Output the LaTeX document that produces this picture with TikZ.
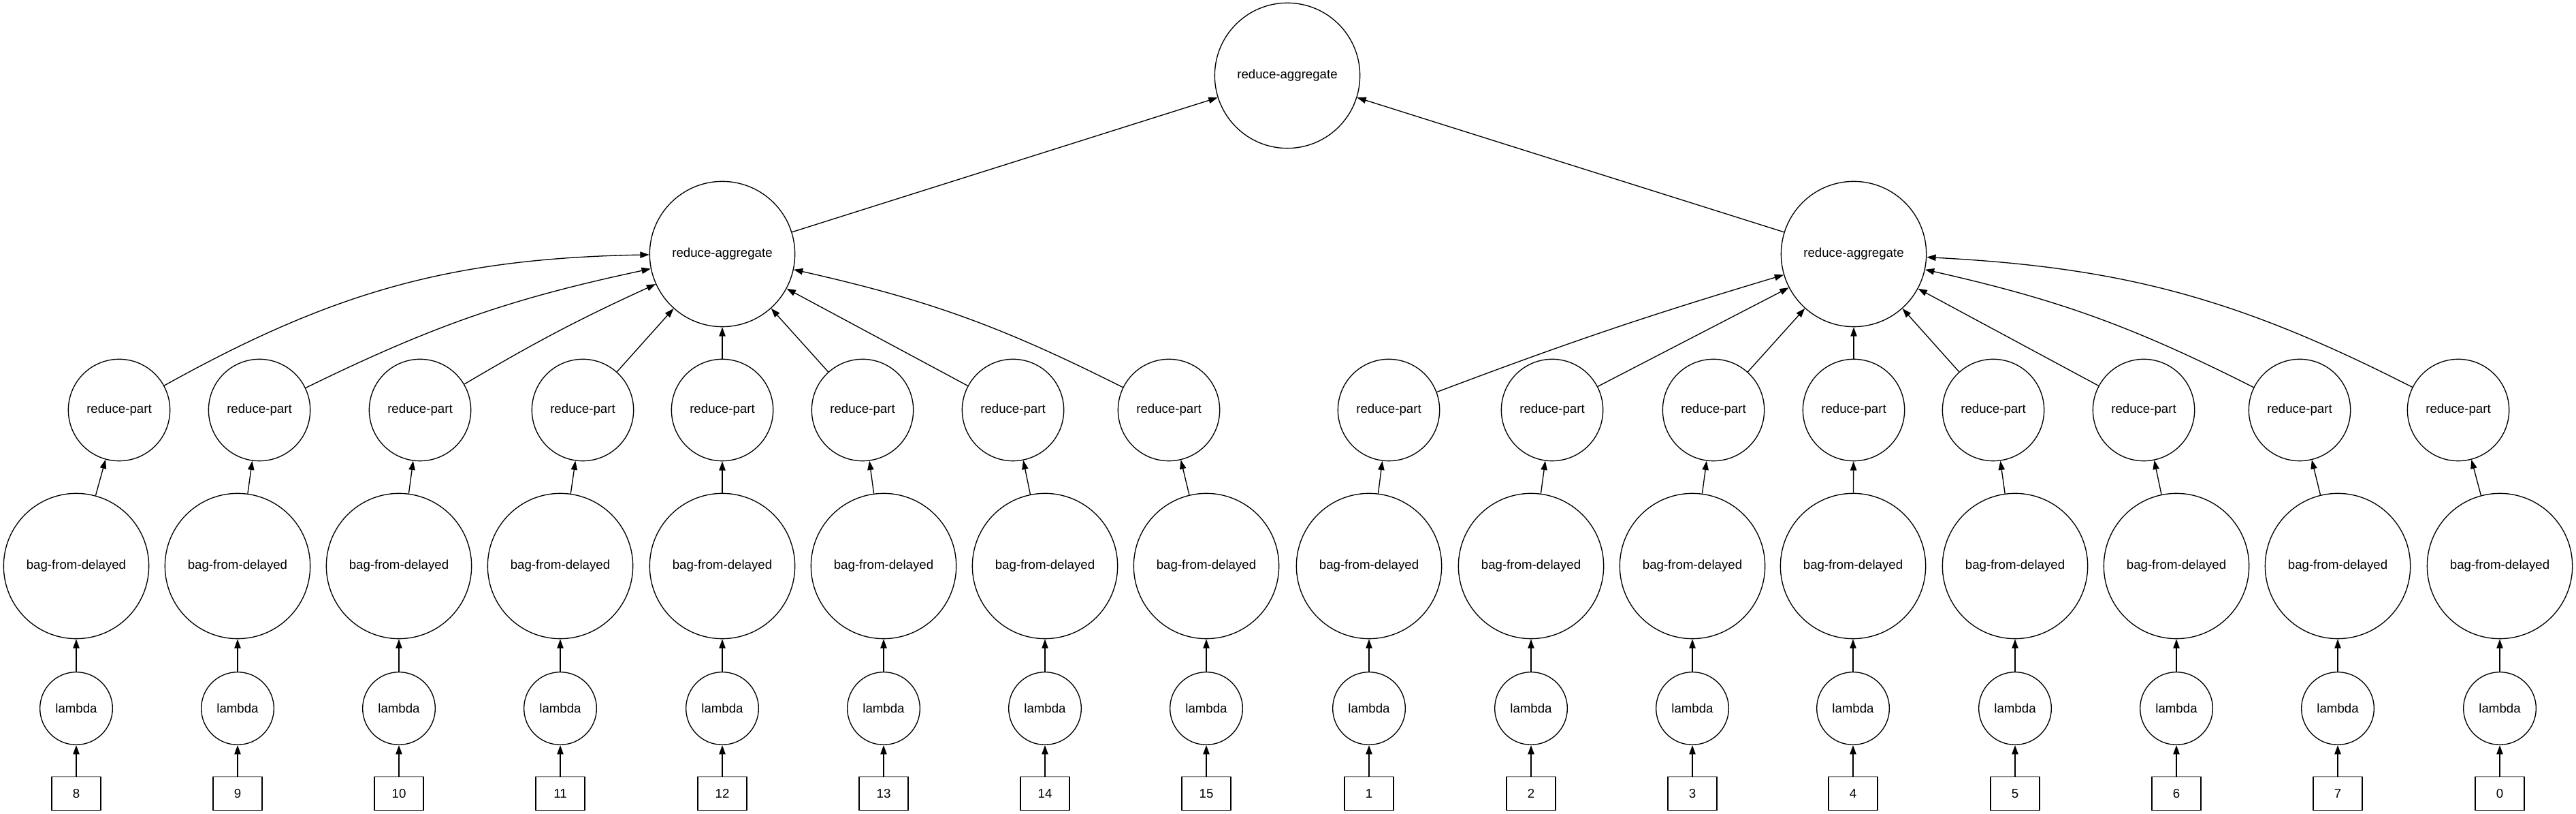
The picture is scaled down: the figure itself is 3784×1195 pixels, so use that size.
\documentclass[tikz,border=0pt]{standalone}
\usepackage{fontspec}
\setmainfont{Liberation Sans}
\usetikzlibrary{arrows.meta}
\tikzset{
  task/.style={draw,circle,line width=1pt,inner sep=0pt,font=\fontsize{14}{16}\selectfont},
  lambdanode/.style={task,minimum size=80pt},
  bagnode/.style={task,minimum size=160pt},
  partnode/.style={task,minimum size=112pt},
  aggnode/.style={task,minimum size=160pt},
  keybox/.style={draw,rectangle,line width=1pt,inner sep=0pt,minimum width=54pt,minimum height=36.75pt,font=\fontsize{14}{16}\selectfont},
  dep/.style={-{Triangle[length=10pt,width=7pt]},line width=1pt}
}
\begin{document}
\begin{tikzpicture}[x=0.75pt,y=0.75pt]
  \fill[white] (0,0) rectangle (3784,1195);
  \useasboundingbox (0,0) rectangle (3784,1195);

  \node[aggnode] (aggTop) at (1891,1084) {reduce-aggregate};
  \node[aggnode] (aggL) at (1061,822) {reduce-aggregate};
  \node[aggnode] (aggR) at (2723,822) {reduce-aggregate};

  \draw[dep] (aggL) -- (aggTop);
  \draw[dep] (aggR) -- (aggTop);

  % one column per key: key -> lambda -> bag -> part -> aggregate
  \foreach \bx/\px/\lbl/\agg/\bend [count=\i] in {
      112/175/8/aggL/14, 349/381/9/aggL/7, 586/617/10/aggL/3, 823/856/11/aggL/0,
      1061/1061/12/aggL/0, 1298/1267/13/aggL/0, 1535/1488/14/aggL/0, 1772/1717/15/aggL/-7,
      2011/2040/1/aggR/2, 2249/2280/2/aggR/0, 2486/2517/3/aggR/0, 2722/2723/4/aggR/0,
      2960/2928/5/aggR/0, 3197/3149/6/aggR/0, 3434/3378/7/aggR/-7, 3672/3611/0/aggR/-12}{
    \node[keybox] (key\i) at (\bx,30) {\lbl};
    \node[lambdanode] (lam\i) at (\bx,155) {lambda};
    \node[bagnode] (bag\i) at (\bx,364) {bag-from-delayed};
    \node[partnode] (part\i) at (\px,593) {reduce-part};
    \draw[dep] (key\i) -- (lam\i);
    \draw[dep] (lam\i) -- (bag\i);
    \draw[dep] (bag\i) -- (part\i);
    \draw[dep] (part\i) to[bend left=\bend] (\agg);
  }
\end{tikzpicture}
\end{document}
